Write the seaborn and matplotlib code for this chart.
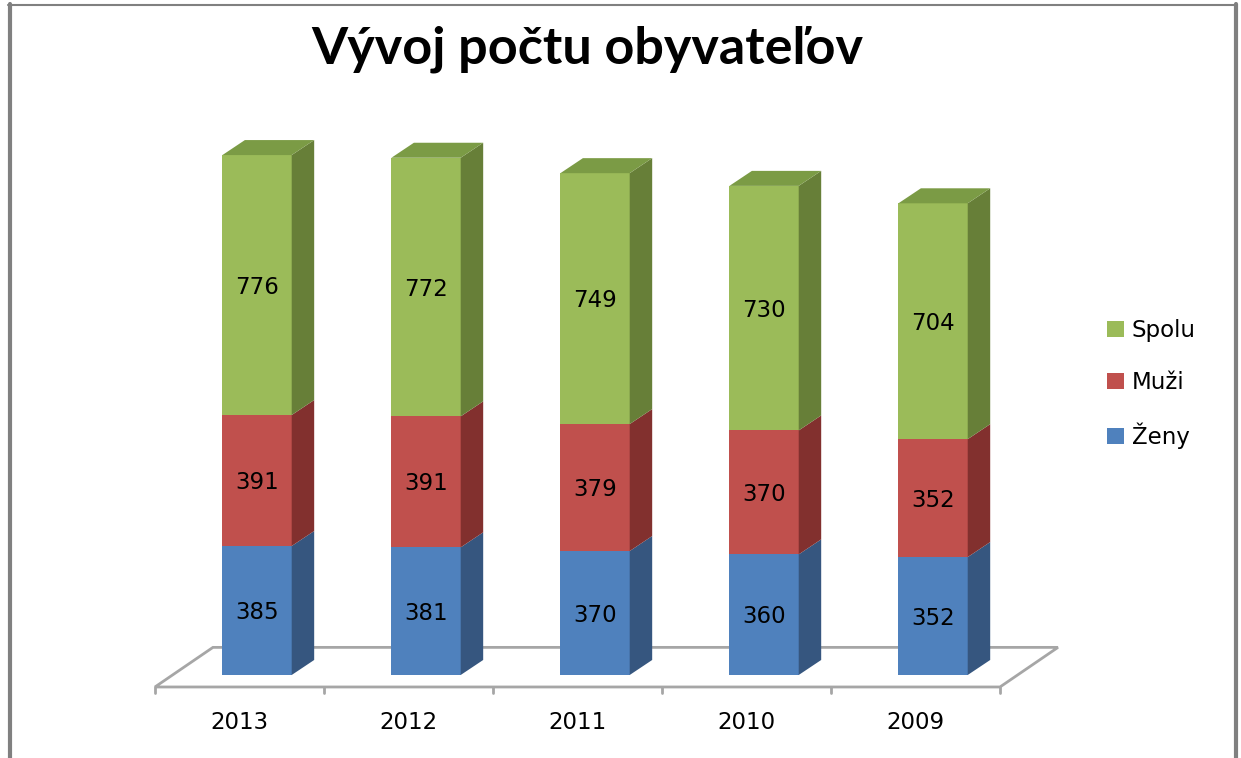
import numpy as np
import pandas as pd
import matplotlib
matplotlib.use("Agg")
import matplotlib.pyplot as plt
import seaborn as sns
from matplotlib.patches import Polygon, Patch
from matplotlib.lines import Line2D

years = ['2013', '2012', '2011', '2010', '2009']
zeny = [385, 381, 370, 360, 352]
muzi = [391, 391, 379, 370, 352]
spolu = [776, 772, 749, 730, 704]

series = ['Ženy', 'Muži', 'Spolu']
front_colors = ['#4F81BD', '#C0504D', '#9BBB59']
side_colors = ['#36567F', '#82302E', '#677F38']
top_color = '#7B9B45'

W, H = 1241, 758
sns.set_theme(style='white')
plt.rcParams['font.family'] = ['DejaVu Sans']
plt.rcParams['text.color'] = 'black'

fig = plt.figure(figsize=(W / 100, H / 100), dpi=100)
ax = fig.add_axes([0, 0, 1, 1])

# build table with stacked bottoms/tops
df = pd.DataFrame({'rok': years, 'Ženy': zeny, 'Muži': muzi, 'Spolu': spolu})
df['b0'] = 0
df['t0'] = df['Ženy']
df['t1'] = df['t0'] + df['Muži']
df['t2'] = df['t1'] + df['Spolu']
bottoms = ['b0', 't0', 't1']
tops = ['t0', 't1', 't2']

bw = 0.41           # bar width (category units)
ddx, ddy = 0.133, 44.8   # depth offset of the bars
# floor (decoration)
fx0, fx1 = -0.5, len(years) - 0.5
f_front = (-0.104, -35.8)
f_back = (0.239, 82.4)
floor_col = '#A6A6A6'
floor = Polygon([(fx0 + f_front[0], f_front[1]), (fx1 + f_front[0], f_front[1]),
                 (fx1 + f_back[0], f_back[1]), (fx0 + f_back[0], f_back[1])],
                closed=True, facecolor='white', edgecolor=floor_col, lw=2, zorder=0)
ax.add_patch(floor)
for k in range(len(years) + 1):
    xt = fx0 + k + f_front[0]
    ax.plot([xt, xt], [f_front[1], f_front[1] - 18], color=floor_col, lw=2, zorder=0)

# front faces, stacked: draw tallest first
for j in [2, 1, 0]:
    sns.barplot(data=df, x='rok', y=tops[j], order=years, color=front_colors[j],
                saturation=1, width=bw, errorbar=None, linewidth=0, ax=ax, zorder=3)

# side and top faces
for i in range(len(years)):
    xr = i + bw / 2
    for j in range(3):
        y0, y1 = df.loc[i, bottoms[j]], df.loc[i, tops[j]]
        ax.add_patch(Polygon([(xr, y0), (xr + ddx, y0 + ddy), (xr + ddx, y1 + ddy), (xr, y1)],
                             closed=True, facecolor=side_colors[j], lw=0, zorder=3))
        ax.text(i, (y0 + y1) / 2 - 6, str(df.loc[i, series[j]]), ha='center', va='center',
                fontsize=16.5, color='black', zorder=5)
    yt = df.loc[i, 't2']
    xl = i - bw / 2
    ax.add_patch(Polygon([(xl, yt), (xr, yt), (xr + ddx, yt + ddy), (xl + ddx, yt + ddy)],
                         closed=True, facecolor=top_color, lw=0, zorder=3))

# category labels under floor front edge
for i, y in enumerate(years):
    ax.text(i + f_front[0], -143, y, ha='center', va='center', fontsize=16.5, color='black')

ax.set_xlim(-1.521, 5.822)
ax.set_ylim(-247.8, 2014.9)
ax.axis('off')

fig.text(587 / W, 1 - 49 / H, 'Vývoj počtu obyvateľov', ha='center', va='center',
         fontsize=37.5, fontweight='bold', color='black', family=['Lato', 'DejaVu Sans'])

handles = [Patch(facecolor=front_colors[j], edgecolor='none') for j in [2, 1, 0]]
fig.legend(handles, [series[j] for j in [2, 1, 0]], loc='center left',
           bbox_to_anchor=(1107 / W, 1 - 384 / H), frameon=False, fontsize=16.5,
           handlelength=0.72, handleheight=0.72, handletextpad=0.35, labelspacing=1.25,
           borderpad=0, borderaxespad=0, labelcolor='black')

# chart frame
g = '#808080'
fig.add_artist(Line2D([9.5 / W, 9.5 / W], [0, 1 - 4 / H], color=g, lw=3))
fig.add_artist(Line2D([8 / W, 1237 / W], [1 - 4.5 / H, 1 - 4.5 / H], color=g, lw=1.5))
fig.add_artist(Line2D([1235.5 / W, 1235.5 / W], [0, 1 - 4 / H], color=g, lw=3))

fig.savefig('out.png', dpi=100)
